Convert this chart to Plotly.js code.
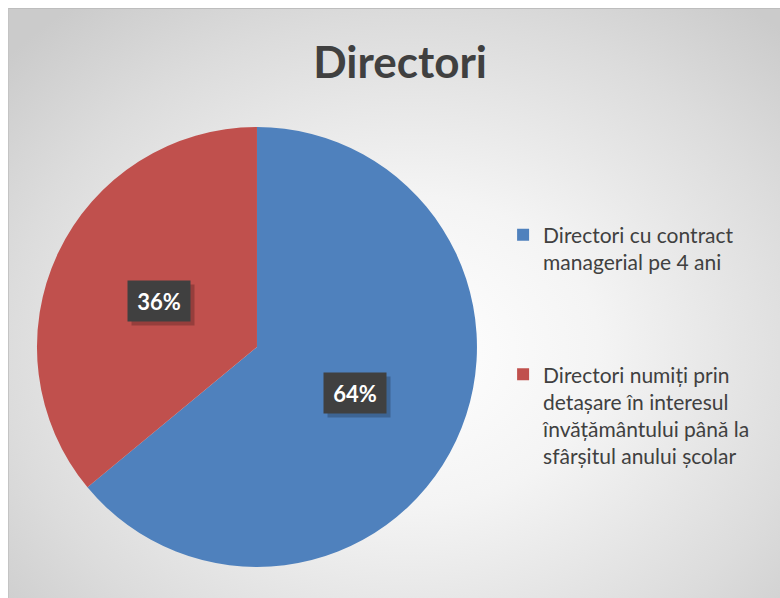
<!DOCTYPE html>
<html>
<head>
<meta charset="utf-8">
<script src="https://cdn.plot.ly/plotly-3.0.1.min.js"></script>
<style>
  html, body { margin: 0; padding: 0; background: #ffffff; }
  #bg { position: absolute; left: 8px; top: 8px; width: 772px; height: 590px;
        background: radial-gradient(ellipse 70% 75% at 52% 58%, #ffffff 0%, #f4f4f4 35%, #dcdcdc 75%, #cbcbcb 100%);
        border-top: 1px solid #bdbdbd; border-left: 1px solid #c4c4c4; }
  #chart { position: absolute; left: 0; top: 0; width: 780px; height: 598px; }
</style>
</head>
<body>
<div id="bg"></div>
<div id="chart"></div>
<script>
const chartTitle = "Directori";
const categories = [
  "Directori cu contract managerial pe 4 ani",
  "Directori numiți prin detașare în interesul învățământului până la sfârșitul anului școlar"
];
const legendLabels = [
  "Directori cu contract<br>managerial pe 4 ani",
  "Directori numiți prin<br>detașare în interesul<br>învățământului până la<br>sfârșitul anului școlar"
];
const values = [64, 36];
const colors = ["#4F81BD", "#C0504D"];

const dom = { x: [0.0474, 0.6115], y: [0.0518, 0.7876] };
const total = values.reduce((a, b) => a + b, 0);

// label positions computed from data (clockwise from 12 o'clock)
const W = 780, H = 598;
const cx = (dom.x[0] + dom.x[1]) / 2 * W;
const cy = (dom.y[0] + dom.y[1]) / 2 * H;
const R = Math.min((dom.x[1] - dom.x[0]) * W, (dom.y[1] - dom.y[0]) * H) / 2;
let cum = 0;
const annotations = [];
values.forEach((v, i) => {
  const mid = (cum + v / 2) / total * 2 * Math.PI;
  cum += v;
  const r = 0.49 * R;
  const pos = {
    xref: "paper", yref: "paper",
    x: (cx + r * Math.sin(mid)) / W,
    y: (cy + r * Math.cos(mid)) / H,
    showarrow: false,
    width: 46, height: 24,
    borderpad: 8,
    xanchor: "center", yanchor: "middle"
  };
  // drop shadow box (no text)
  annotations.push(Object.assign({}, pos, {
    text: " ", bgcolor: "rgba(0,0,0,0.22)", xshift: 4, yshift: -4,
    font: { size: 10, color: "rgba(0,0,0,0)" }
  }));
  annotations.push(Object.assign({}, pos, {
    text: "<b>" + Math.round(v / total * 100) + "%</b>",
    bgcolor: "#404040",
    font: { family: "Lato, 'Open Sans', sans-serif", size: 22, color: "#ffffff" }
  }));
});

const spacer = "<br> <br> <br>";
const trace = {
  type: "pie",
  labels: [legendLabels[0] + spacer, legendLabels[1]],
  values: values,
  sort: false,
  direction: "clockwise",
  rotation: 0,
  marker: { colors: colors, line: { width: 0 } },
  textinfo: "none",
  hoverinfo: "label+percent",
  domain: dom
};

const layout = {
  width: W, height: H,
  margin: { l: 0, r: 0, t: 0, b: 0 },
  paper_bgcolor: "rgba(0,0,0,0)",
  plot_bgcolor: "rgba(0,0,0,0)",
  title: {
    text: "<b>" + chartTitle + "</b>",
    x: 0.513, xanchor: "center",
    y: 0.895, yanchor: "middle",
    font: { family: "Lato, 'Open Sans', sans-serif", size: 44, color: "#404040" }
  },
  showlegend: true,
  legend: {
    x: 0.645, xanchor: "left",
    y: 0.641, yanchor: "top",
    valign: "top",
    bgcolor: "rgba(0,0,0,0)",
    font: { family: "Lato, 'Open Sans', sans-serif", size: 21, color: "#404040" },
    itemwidth: 30
  },
  annotations: annotations
};

Plotly.newPlot("chart", [trace], layout, { displayModeBar: false, staticPlot: true });
</script>
</body>
</html>
